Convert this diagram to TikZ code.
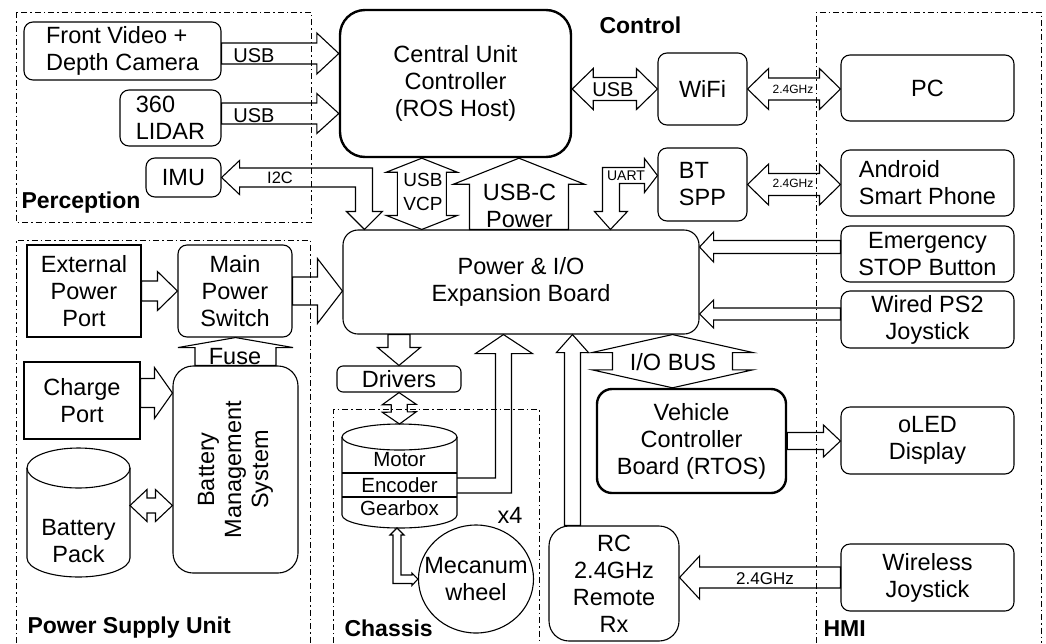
\documentclass[tikz,border=0pt]{standalone}
\usepackage{fontspec}
\setmainfont{Liberation Sans}
\usetikzlibrary{calc,shapes.geometric}

\tikzset{every picture/.style={line width=1.1pt}}
\tikzset{
  box/.style={draw, rounded corners=9, inner sep=2pt, align=center},
  sqbox/.style={draw, inner sep=2pt, align=center},
  thickbox/.style={box, line width=2.4pt},
  blk/.style={draw, line join=miter},
  zone/.style={dash pattern=on 6pt off 3pt on 1.5pt off 3pt, line width=1pt},
  zonelbl/.style={font=\fontsize{23}{27}\selectfont\bfseries, anchor=west, inner sep=0pt},
  lbl/.style={inner sep=0pt, align=center},
}

% block arrow: from, to, shaft half width, head half width, head length
\newcommand{\blkarrow}[5]{%
  \coordinate (arA) at (#1); \coordinate (arB) at (#2);
  \coordinate (arH) at ($(arB)!#5!(arA)$);
  \draw[blk] ($(arA)!#3!90:(arB)$) -- ($(arH)!#3!90:(arB)$) -- ($(arH)!#4!90:(arB)$) -- (arB)
    -- ($(arH)!#4!-90:(arB)$) -- ($(arH)!#3!-90:(arB)$) -- ($(arA)!#3!-90:(arB)$) -- cycle;}
% double block arrow
\newcommand{\dblarrow}[5]{%
  \coordinate (arA) at (#1); \coordinate (arB) at (#2);
  \coordinate (arH) at ($(arB)!#5!(arA)$); \coordinate (arT) at ($(arA)!#5!(arB)$);
  \draw[blk] (arA) -- ($(arT)!#4!90:(arB)$) -- ($(arT)!#3!90:(arB)$) -- ($(arH)!#3!90:(arB)$)
    -- ($(arH)!#4!90:(arB)$) -- (arB) -- ($(arH)!#4!-90:(arB)$) -- ($(arH)!#3!-90:(arB)$)
    -- ($(arT)!#3!-90:(arB)$) -- ($(arT)!#4!-90:(arB)$) -- cycle;}

\begin{document}
\begin{tikzpicture}[x=1pt,y=1pt,yscale=-1,font=\fontsize{23.5}{27}\selectfont]
\useasboundingbox (0,0) rectangle (1046,643);

%Zones
\draw[zone] (16,12) rectangle (311,222);
\draw[zone] (16,643) -- (16,240) -- (310,240) -- (310,643);
\draw[zone] (333,643) -- (333,409) -- (539,409) -- (539,643);
\draw[zone] (816,643) -- (816,12) -- (1041,12) -- (1041,643);
\node[zonelbl] (lperc) at (21,203) {Perception};
\node[zonelbl] (lpsu) at (27,628) {Power Supply Unit};
\node[zonelbl] (lchs) at (344,628) {Chassis};
\node[zonelbl] (lhmi) at (823,629) {HMI};
\node[zonelbl] (lctl) at (599,25) {Control};

%Perception
\node[box, align=left, minimum width=197, minimum height=58] (cam) at (122.5,51) {Front Video +\\Depth Camera};
\node[box, align=left, minimum width=101, minimum height=56] (lidar) at (170.5,118) {360\\LIDAR};
\node[box, minimum width=75, minimum height=39] (imu) at (183.5,177.5) {IMU};

%Control
\node[thickbox, rounded corners=25, minimum width=231, minimum height=147] (cu) at (455.5,83.5) {Central Unit\\Controller\\(ROS Host)};
\node[box, minimum width=89, minimum height=72] (wifi) at (702.5,89) {WiFi};
\node[box, align=left, minimum width=89, minimum height=73] (btspp) at (702.5,184.5) {BT\\SPP};
\node[box, rounded corners=15, minimum width=356, minimum height=104] (pb) at (521,282) {Power \& I/O\\Expansion Board};
\node[thickbox, rounded corners=15, minimum width=189, minimum height=104] (vcb) at (691.5,441) {Vehicle\\Controller\\Board (RTOS)};
\node[box, rounded corners=20, minimum width=130, minimum height=115] (rc) at (614,583.5) {RC\\2.4GHz\\Remote\\Rx};

%HMI
\node[box, minimum width=173, minimum height=66] (pc) at (927.5,88) {PC};
\node[box, align=left, minimum width=173, minimum height=66] (android) at (927.5,183) {Android\\Smart Phone};
\node[box, minimum width=173, minimum height=56] (estop) at (927.5,254) {Emergency\\STOP Button};
\node[box, minimum width=173, minimum height=57] (ps2) at (927.5,319.5) {Wired PS2\\Joystick};
\node[box, minimum width=173, minimum height=67] (oled) at (927.5,440.5) {oLED\\Display};
\node[box, minimum width=173, minimum height=67] (wj) at (927.5,577.5) {Wireless\\Joystick};

%Power supply unit
\node[sqbox, minimum width=114, minimum height=92] (ext) at (84,291) {External\\Power\\Port};
\node[box, minimum width=114, minimum height=92] (msw) at (235,291) {Main\\Power\\Switch};
\node[sqbox, minimum width=116, minimum height=77] (chg) at (82,400.5) {Charge\\Port};
\node[box, rounded corners=20, minimum width=125, minimum height=207] (bms) at (235.5,469.5) {};
\node[rotate=90, align=center] (bmstxt) at (bms) {Battery\\Management\\System};
%Shape: Battery cylinder
\draw (27,468) -- (27,558) arc[start angle=180, end angle=0, x radius=51.5, y radius=19] -- (130,468);
\draw (78.5,468) ellipse [x radius=51.5, y radius=20];
\node[align=center] (bat) at (78.5,541) {Battery\\Pack};
\coordinate (batr) at (130,505.5);

%Chassis
\node[box, rounded corners=6, minimum width=124, minimum height=26] (drv) at (399,379) {Drivers};
%Shape: Motor cylinder
\draw (342,437) -- (342,515) arc[start angle=180, end angle=0, x radius=57.5, y radius=13] -- (457,437);
\draw (399.5,437) ellipse [x radius=57.5, y radius=13];
\draw (342,473) -- (457,473);
\draw (342,497) -- (457,497);
\coordinate (mtop) at (399.5,424);
\coordinate (mr) at (457,485);
\node[lbl, font=\fontsize{20.5}{24}\selectfont] (motor) at (399.5,460) {Motor};
\node[lbl, font=\fontsize{20.5}{24}\selectfont] (enc) at (399.5,485) {Encoder};
\node[lbl, font=\fontsize{20.5}{24}\selectfont] (gear) at (399.5,508) {Gearbox};
\node[draw, ellipse, minimum width=115, minimum height=108] (wheel) at (476,579) {};
\node[lbl] (wheeltxt) at (wheel) {Mecanum\\wheel};
\node[lbl] (lx4) at (510,515) {x4};

%Block arrows
\coordinate (cama) at ($(cam.east)+(0,2.5)$);
\blkarrow{cama}{cama -| cu.west}{10.5pt}{20.5pt}{22pt}
\coordinate (lida) at ($(lidar.east)+(0,-4.5)$);
\blkarrow{lida}{lida -| cu.west}{10.5pt}{20pt}{22pt}
\dblarrow{wifi.west -| cu.east}{wifi.west}{11.5pt}{20.5pt}{21pt}
\dblarrow{wifi.east}{wifi.east -| pc.west}{11pt}{20.5pt}{21pt}
\dblarrow{btspp.east}{btspp.east -| android.west}{11pt}{20.5pt}{21pt}
\coordinate (vcpt) at ($(cu.south west)+(83,0)$);
\dblarrow{vcpt}{vcpt |- pb.north}{24.5pt}{35.5pt}{14pt}
\coordinate (ucb) at ($(pb.north west)+(176.5,0)$);
\blkarrow{ucb}{ucb |- cu.south}{49.5pt}{65.5pt}{26pt}
\coordinate (esa) at ($(estop.west)+(0,-7)$);
\blkarrow{esa}{esa -| pb.east}{6.5pt}{15pt}{14pt}
\coordinate (psa) at ($(ps2.west)+(0,-5.5)$);
\blkarrow{psa}{psa -| pb.east}{6pt}{14pt}{14pt}
\coordinate (iobt) at ($(pb.south west)+(330,0)$);
\dblarrow{iobt}{iobt |- vcb.north}{60pt}{80.5pt}{18pt}
\blkarrow{vcb.east}{vcb.east -| oled.west}{8.5pt}{16pt}{17pt}
\blkarrow{wj.west}{wj.west -| rc.east}{10.5pt}{21.5pt}{20pt}
\coordinate (rcup) at ($(rc.north west)+(24,0)$);
\blkarrow{rcup}{rcup |- pb.south}{8pt}{16pt}{18pt}
\blkarrow{pb.south -| drv.north}{drv.north}{11pt}{21.5pt}{18pt}
\dblarrow{drv.south}{mtop}{8pt}{17pt}{12pt}
\blkarrow{ext.east}{ext.east -| msw.west}{10pt}{19.5pt}{20pt}
\blkarrow{msw.east}{msw.east -| pb.west}{14pt}{32.5pt}{25pt}
\coordinate (cha) at ($(chg.east)+(0,-7.5)$);
\blkarrow{cha}{cha -| bms.west}{14.5pt}{25.5pt}{18pt}
\dblarrow{batr}{batr -| bms.west}{7.5pt}{16pt}{17pt}
\blkarrow{bms.north}{bms.north |- msw.south}{40.5pt}{57.5pt}{10pt}

%Bent arrows
\coordinate (i2ct) at ($(pb.north west)+(22,0)$);
\draw[blk] (imu.east) -- ++(18,-17) -- ++(0,7.5) -| ($(i2ct)+(8,-18)$) -- ++(10,0) -- (i2ct) -- ++(-18,-18) -- ++(9,0) |- ($(imu.east)+(18,9.5)$) -- ++(0,7.5) -- cycle;
\coordinate (uartt) at ($(btspp.west)+(0,-9)$);
\coordinate (uartb) at ($(pb.north west)+(268,0)$);
\draw[blk] (uartt) -- ++(-13,-17) -- ++(0,9) -| ($(uartb)+(-8,-18)$) -- ++(-8,0) -- (uartb) -- ++(17,-18) -- ++(-8,0) |- ($(uartt)+(-13,8)$) -- ++(0,9) -- cycle;
\coordinate (enct) at ($(pb.south west)+(161,0)$);
\draw[blk] ($(mr)+(0,-7)$) -| ($(enct)+(-8,19)$) -- ++(-20,0) -- (enct) -- ++(29,19) -- ++(-21,0) |- ($(mr)+(0,8)$);
\coordinate (gb) at (397,528);
\draw[blk] (gb) -- ++(7,7) -- ++(-3,0) |- ($(wheel.west)+(-6,-4)$) -- ++(0,-2) -- (wheel.west) -- ++(-6,6.5) -- ++(0,-2) -| ($(gb)+(-4,7)$) -- ++(-3,0) -- cycle;

%Arrow labels
\node[lbl, font=\fontsize{20}{24}\selectfont] (lusb1) at (254,55.5) {USB};
\node[lbl, font=\fontsize{20}{24}\selectfont] (lusb2) at (254,116) {USB};
\node[lbl, font=\fontsize{16.5}{20}\selectfont] (li2c) at (280,178) {I2C};
\node[lbl, font=\fontsize{20}{24}\selectfont] (lusb3) at (613,90) {USB};
\node[lbl, font=\fontsize{12}{14}\selectfont] (lghz1) at (793,89) {2.4GHz};
\node[lbl, font=\fontsize{12}{14}\selectfont] (lghz2) at (793,183) {2.4GHz};
\node[lbl, font=\fontsize{14}{17}\selectfont] (luart) at (626,176) {UART};
\node[lbl, font=\fontsize{19}{24}\selectfont] (lvcp) at (423,192) {USB\\VCP};
\node[lbl] (lusbc) at (519.5,205.5) {USB-C\\Power};
\node[lbl] (liobus) at (673,362) {I/O BUS};
\node[lbl, font=\fontsize{17}{20}\selectfont] (lghz3) at (765,579) {2.4GHz};
\node[lbl] (lfuse) at (235,356.5) {Fuse};

\end{tikzpicture}
\end{document}
